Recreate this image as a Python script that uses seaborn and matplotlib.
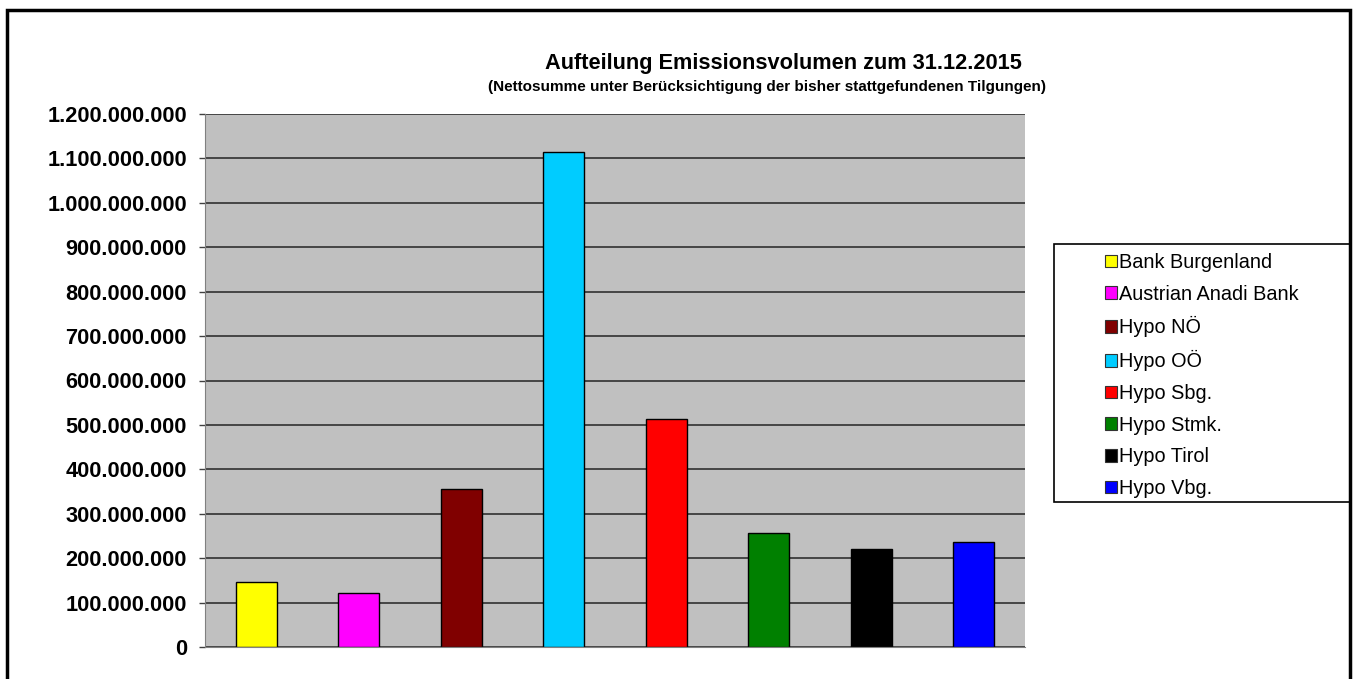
import numpy as np
import pandas as pd
import seaborn as sns
from matplotlib import pyplot as plt
from matplotlib.patches import Patch, Rectangle
from matplotlib.ticker import FuncFormatter, MultipleLocator

# Emissionsvolumen je Bank
banks = ["Bank Burgenland", "Austrian Anadi Bank", "Hypo NÖ", "Hypo OÖ",
         "Hypo Sbg.", "Hypo Stmk.", "Hypo Tirol", "Hypo Vbg."]
volumes = [147e6, 122e6, 356e6, 1114e6, 514e6, 256e6, 221e6, 236e6]
colors = ["#FFFF00", "#FF00FF", "#800000", "#00CCFF",
          "#FF0000", "#008000", "#000000", "#0000FF"]

plt.rcParams['font.family'] = ['Liberation Sans', 'DejaVu Sans']

df = pd.DataFrame({"Bank": banks, "Volumen": volumes})
palette = dict(zip(banks, colors))

fig = plt.figure(figsize=(13.57, 6.79), dpi=100)
ax = fig.add_axes([205 / 1357, 1 - 647 / 679, 820 / 1357, 533 / 679])
ax.set_facecolor("#C0C0C0")

sns.barplot(data=df, x="Bank", y="Volumen", hue="Bank", palette=palette,
            width=0.4, edgecolor="black", linewidth=1, saturation=1,
            legend=False, ax=ax)

ax.set_ylim(0, 1.2e9)
ax.set_xlim(-0.5, len(banks) - 0.5)
ax.yaxis.set_major_locator(MultipleLocator(1e8))
ax.yaxis.set_major_formatter(FuncFormatter(lambda v, p: f"{v:,.0f}".replace(",", ".")))
ax.grid(axis="y", color="#303030", linewidth=1.2)
ax.set_axisbelow(True)
ax.set_xticks([])
ax.set_xlabel("")
ax.set_ylabel("")
ax.tick_params(axis="y", length=4, width=1, color="#404040", pad=9)
for lab in ax.get_yticklabels():
    lab.set_fontweight("bold")
    lab.set_fontsize(15.7)
for side in ["top", "right"]:
    ax.spines[side].set_visible(False)
for side in ["left", "bottom"]:
    ax.spines[side].set_color("#808080")

# titel
fig.text(783 / 1357, 1 - 63 / 679, "Aufteilung Emissionsvolumen zum 31.12.2015",
         ha="center", va="center", fontsize=15.7, fontweight="bold")
fig.text(767 / 1357, 1 - 87 / 679,
         "(Nettosumme unter Berücksichtigung der bisher stattgefundenen Tilgungen)",
         ha="center", va="center", fontsize=11, fontweight="bold")

# legende
fig.patches.append(Rectangle((1054 / 1357, 1 - 502 / 679), 296 / 1357, 258 / 679,
                             transform=fig.transFigure, fill=False,
                             edgecolor="black", linewidth=1.2))
handles = [Patch(facecolor=c, edgecolor="#333333", linewidth=0.8) for c in colors]
fig.legend(handles, banks, loc="upper left",
           bbox_to_anchor=(1105 / 1357, 1 - 253 / 679), frameon=False,
           fontsize=14.3, handlelength=0.6, handleheight=0.6, handletextpad=0.12,
           labelspacing=0.64, borderaxespad=0, borderpad=0)

# rahmen
fig.patches.append(Rectangle((7 / 1357, -0.02), 1343 / 1357, 1.02 - 10 / 679,
                             transform=fig.transFigure, fill=False,
                             edgecolor="black", linewidth=2.5))

fig.savefig("out.png", dpi=100, facecolor="white")
